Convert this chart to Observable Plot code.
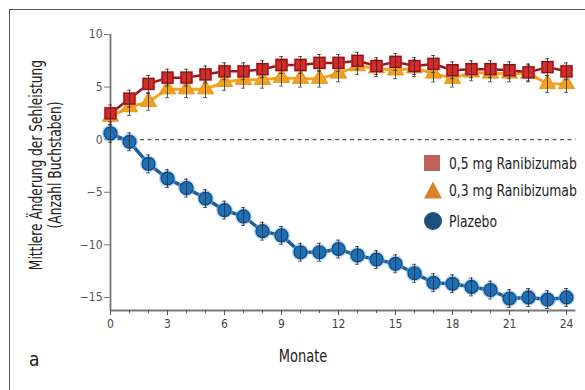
<!DOCTYPE html>
<html>
<head>
<meta charset="utf-8">
<script src="https://cdn.jsdelivr.net/npm/d3@7"></script>
<script src="https://cdn.jsdelivr.net/npm/@observablehq/plot@0.6"></script>
<style>
  html, body { margin: 0; padding: 0; background: #fff; }
  #wrap { position: relative; width: 585px; height: 390px; overflow: hidden;
          font-family: "Liberation Sans Narrow", "DejaVu Sans Condensed", "Roboto", sans-serif; }
  #frame { position: absolute; left: 9px; top: 9px; width: 600px; height: 400px;
           border-top: 1.5px solid #555; border-left: 1.5px solid #555; }
  #chart { position: absolute; left: 0; top: 0; }
  .lbl { position: absolute; color: #222; white-space: nowrap; }
  #ylab { left: 45px; top: 165px; transform: translate(-50%, -50%) rotate(-90deg) scaleX(0.8);
          text-align: center; font-size: 17px; line-height: 18.5px; }
  #xlab { left: 303px; top: 346px; transform: translateX(-50%) scaleX(0.85); font-size: 17px; }
  #alab { left: 29px; top: 348px; font-size: 19px; }
  .leg { position: absolute; left: 423px; height: 20px; display: flex; align-items: center;
         font-size: 16px; color: #222; white-space: nowrap; }
  .leg svg { margin-right: 6px; flex: none; }
  .leg span { display: inline-block; transform: scaleX(0.86); transform-origin: left center; }
</style>
</head>
<body>
<div id="wrap">
  <div id="frame"></div>
  <div id="chart"></div>
  <div class="lbl" id="ylab">Mittlere Änderung der Sehleistung<br>(Anzahl Buchstaben)</div>
  <div class="lbl" id="xlab">Monate</div>
  <div class="lbl" id="alab">a</div>
  <div id="legend"></div>
</div>
<script>
// ---- data ----
const months = [0,1,2,3,4,5,6,7,8,9,10,11,12,13,14,15,16,17,18,19,20,21,22,23,24];
const ranibizumab05 = [2.5,3.9,5.3,5.9,5.9,6.2,6.5,6.5,6.7,7.1,7.1,7.3,7.3,7.5,7.0,7.4,7.0,7.2,6.6,6.7,6.7,6.6,6.4,6.9,6.5];
const ranibizumab03 = [2.2,3.1,3.6,4.8,4.8,4.8,5.5,5.7,5.7,5.9,5.8,5.8,6.3,7.0,6.8,6.6,6.8,6.3,5.8,6.4,6.3,6.3,6.3,5.3,5.3];
const plazebo = [0.6,-0.2,-2.3,-3.7,-4.6,-5.6,-6.7,-7.3,-8.7,-9.1,-10.7,-10.7,-10.4,-11.0,-11.4,-11.8,-12.7,-13.6,-13.7,-14.0,-14.3,-15.1,-15.0,-15.2,-15.0];
const errHalf = { "0,5 mg Ranibizumab": 0.8, "0,3 mg Ranibizumab": 0.8, "Plazebo": 0.85 };
const seriesNames = ["0,5 mg Ranibizumab", "0,3 mg Ranibizumab", "Plazebo"];
const seriesColors = ["#c0605a", "#d9822b", "#1b4f80"];
const yTicks = [-15, -10, -5, 0, 5, 10];
const xLabelTicks = [0,3,6,9,12,15,18,21,24];
const xDomain = [0, 24.5];
const yDomain = [-16.24, 10];

const rows = [];
[[seriesNames[0], ranibizumab05],[seriesNames[1], ranibizumab03],[seriesNames[2], plazebo]].forEach(([s, vals]) => {
  vals.forEach((v, i) => rows.push({series: s, month: months[i], value: v,
    lo: v - errHalf[s], hi: v + errHalf[s]}));
});
const red = rows.filter(d => d.series === seriesNames[0]);
const orange = rows.filter(d => d.series === seriesNames[1]);
const blue = rows.filter(d => d.series === seriesNames[2]);

function errBars(data) {
  return [
    Plot.ruleX(data, {x: "month", y1: "lo", y2: "hi", stroke: "#2a2a2a", strokeWidth: 1, strokeOpacity: 0.8}),
    Plot.ruleY(data, {y: "hi", x1: d => d.month - 0.1, x2: d => d.month + 0.1, stroke: "#2a2a2a", strokeWidth: 1, strokeOpacity: 0.8}),
    Plot.ruleY(data, {y: "lo", x1: d => d.month - 0.1, x2: d => d.month + 0.1, stroke: "#2a2a2a", strokeWidth: 1, strokeOpacity: 0.8})
  ];
}

const font = '"Liberation Sans Narrow", "DejaVu Sans Condensed", sans-serif';

const chart = Plot.plot({
  width: 585,
  height: 390,
  marginLeft: 110,
  marginRight: 9.5,
  marginTop: 34,
  marginBottom: 80,
  style: {fontFamily: font, fontSize: "12px", color: "#555", background: "transparent"},
  x: {domain: xDomain},
  y: {domain: yDomain},
  marks: [
    Plot.ruleY([0], {stroke: "#555", strokeDasharray: "4,3.5", strokeWidth: 1.2}),
    Plot.ruleX([xDomain[0]], {stroke: "#777", strokeWidth: 1.8}),
    Plot.ruleY([yDomain[0]], {stroke: "#777", strokeWidth: 1.8}),
    Plot.axisY({ticks: yTicks, tickSize: 6, tickPadding: 2, label: null, stroke: "#777", fill: "#555", fontSize: 12}),
    Plot.axisX({ticks: months, tickSize: 3, tickFormat: () => "", label: null, stroke: "#555"}),
    Plot.axisX({ticks: xLabelTicks, tickSize: 5, tickPadding: 4, label: null, stroke: "#555", fill: "#444", fontSize: 12}),
    // plazebo
    Plot.line(blue, {x: "month", y: "value", stroke: "#1b5c9c", strokeWidth: 3.5}),
    Plot.dot(blue, {x: "month", y: "value", r: 8.5, fill: "#7fb8e6", fillOpacity: 0.55, stroke: "none"}),
    Plot.dot(blue, {x: "month", y: "value", r: 6.5, fill: "#1f6fb5", stroke: "#0f4a85", strokeWidth: 1.2}),
    ...errBars(blue),
    // 0,3 mg
    Plot.line(orange, {x: "month", y: "value", stroke: "#f2a51d", strokeWidth: 3}),
    Plot.dot(orange, {x: "month", y: "value", symbol: "triangle", r: 6, fill: "#f0a21f", stroke: "#e9921a", strokeWidth: 1}),
    ...errBars(orange),
    // 0,5 mg
    Plot.line(red, {x: "month", y: "value", stroke: "#9e1219", strokeWidth: 2.5}),
    Plot.dot(red, {x: "month", y: "value", symbol: "square", r: 7.5, fill: "#ee8a8c", fillOpacity: 0.6, stroke: "none"}),
    Plot.dot(red, {x: "month", y: "value", symbol: "square", r: 6.2, fill: "#d42b2b", stroke: "#8e0f15", strokeWidth: 1.3}),
    ...errBars(red)
  ]
});
document.getElementById("chart").appendChild(chart);

// legend (row centres at 163, 190, 221 px)
const legendTops = [153, 180, 211];
const shapes = [
  '<svg width="20" height="20"><rect x="1" y="2" width="16" height="16" fill="' + seriesColors[0] + '"/></svg>',
  '<svg width="20" height="20"><polygon points="1,18.5 10,1.5 19,18.5" fill="' + seriesColors[1] + '"/></svg>',
  '<svg width="20" height="20"><circle cx="10" cy="10" r="9" fill="' + seriesColors[2] + '"/></svg>'
];
const wrap = document.getElementById("wrap");
seriesNames.forEach((name, i) => {
  const row = document.createElement("div");
  row.className = "leg";
  row.style.top = legendTops[i] + "px";
  row.innerHTML = shapes[i] + "<span>" + name + "</span>";
  wrap.appendChild(row);
});
</script>
</body>
</html>
